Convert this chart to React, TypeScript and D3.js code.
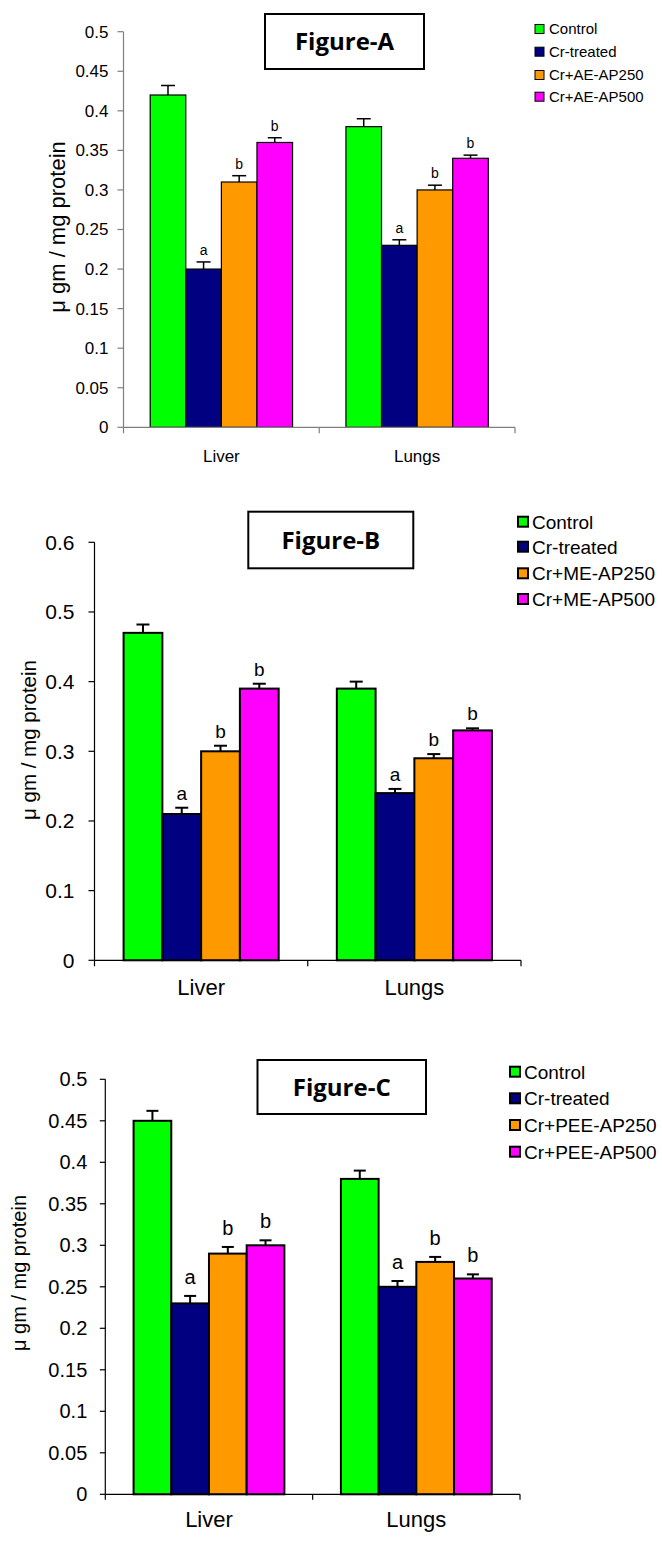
import React from "react";
import * as d3 from "d3";

// ---------- DATA ----------
const categories = ["Liver", "Lungs"];
const seriesColors = ["#00FF00", "#000080", "#FF9900", "#FF00FF"];
const sigLetters = ["", "a", "b", "b"];

const seriesA = ["Control", "Cr-treated", "Cr+AE-AP250", "Cr+AE-AP500"];
const valuesA = [
  [0.42, 0.38],
  [0.2, 0.23],
  [0.31, 0.3],
  [0.36, 0.34],
];
const errorsA = [
  [0.012, 0.01],
  [0.009, 0.007],
  [0.008, 0.006],
  [0.006, 0.004],
];
const ticksA = [0, 0.05, 0.1, 0.15, 0.2, 0.25, 0.3, 0.35, 0.4, 0.45, 0.5];

const seriesB = ["Control", "Cr-treated", "Cr+ME-AP250", "Cr+ME-AP500"];
const valuesB = [
  [0.47, 0.39],
  [0.21, 0.24],
  [0.3, 0.29],
  [0.39, 0.33],
];
const errorsB = [
  [0.012, 0.01],
  [0.009, 0.006],
  [0.008, 0.006],
  [0.007, 0.003],
];
const ticksB = [0, 0.1, 0.2, 0.3, 0.4, 0.5, 0.6];

const seriesC = ["Control", "Cr-treated", "Cr+PEE-AP250", "Cr+PEE-AP500"];
const valuesC = [
  [0.45, 0.38],
  [0.23, 0.25],
  [0.29, 0.28],
  [0.3, 0.26],
];
const errorsC = [
  [0.012, 0.01],
  [0.009, 0.007],
  [0.008, 0.006],
  [0.006, 0.005],
];
const ticksC = [0, 0.05, 0.1, 0.15, 0.2, 0.25, 0.3, 0.35, 0.4, 0.45, 0.5];

const yLabel = "μ gm / mg protein";

// ---------- LAYOUT ----------
const SANS = "'Liberation Sans', Arial, sans-serif";
const TITLE_FONT = "'Open Sans', sans-serif";

interface Layout {
  left: number;
  right: number;
  top: number;
  bottom: number;
  yMax: number;
  axisColor: string;
  axisWidth: number;
  tickLen: number;
  tickFont: number;
  tickLabelGap: number;
  catFont: number;
  catY: number;
  yLabelX: number;
  yLabelY: number;
  yLabelFont: number;
  letterFont: number;
  letterGap: number;
  barStroke: number;
  errStroke: number;
  capW: number;
  box: [number, number, number, number];
  titleFont: number;
  legendX: number;
  legendSq: number;
  legendTextX: number;
  legendYs: number[];
  legendFont: number;
  legendStroke: number;
}

const layoutA: Layout = {
  left: 123.5,
  right: 515,
  top: 31.7,
  bottom: 427.3,
  yMax: 0.5,
  axisColor: "#7f7f7f",
  axisWidth: 1.2,
  tickLen: 6,
  tickFont: 17,
  tickLabelGap: 15,
  catFont: 17,
  catY: 461.5,
  yLabelX: 57,
  yLabelY: 227,
  yLabelFont: 22,
  letterFont: 14,
  letterGap: 7,
  barStroke: 1.2,
  errStroke: 1.5,
  capW: 14,
  box: [265, 14, 424, 69],
  titleFont: 24,
  legendX: 535,
  legendSq: 9,
  legendTextX: 549,
  legendYs: [29, 51.7, 75, 96.7],
  legendFont: 15,
  legendStroke: 1,
};

const layoutB: Layout = {
  left: 94.5,
  right: 521,
  top: 542.3,
  bottom: 960.3,
  yMax: 0.6,
  axisColor: "#000",
  axisWidth: 1.2,
  tickLen: 6,
  tickFont: 21,
  tickLabelGap: 20,
  catFont: 22,
  catY: 995,
  yLabelX: 28.5,
  yLabelY: 740,
  yLabelFont: 20.5,
  letterFont: 19,
  letterGap: 8,
  barStroke: 2,
  errStroke: 2,
  capW: 13,
  box: [248.3, 511.7, 413.3, 568.3],
  titleFont: 24,
  legendX: 518,
  legendSq: 10,
  legendTextX: 532,
  legendYs: [521.7, 546.7, 573.3, 599],
  legendFont: 19,
  legendStroke: 2,
};

const layoutC: Layout = {
  left: 105.3,
  right: 520,
  top: 1079.3,
  bottom: 1494.3,
  yMax: 0.5,
  axisColor: "#000",
  axisWidth: 1.2,
  tickLen: 5.5,
  tickFont: 20,
  tickLabelGap: 18,
  catFont: 22,
  catY: 1526.5,
  yLabelX: 19,
  yLabelY: 1273,
  yLabelFont: 20,
  letterFont: 20,
  letterGap: 12,
  barStroke: 2,
  errStroke: 2,
  capW: 12,
  box: [257.5, 1060, 426, 1114],
  titleFont: 24,
  legendX: 510,
  legendSq: 10,
  legendTextX: 524,
  legendYs: [1071.7, 1098.3, 1125, 1151.7],
  legendFont: 19,
  legendStroke: 2,
};

function fmt(v: number): string {
  return String(+v.toFixed(2));
}

function Panel(props: {
  series: string[];
  values: number[][];
  errors: number[][];
  ticks: number[];
  title: string;
  L: Layout;
}) {
  const { series, values, errors, ticks, title, L } = props;
  const y = d3.scaleLinear().domain([0, L.yMax]).range([L.bottom, L.top]);
  const x0 = d3
    .scaleBand<string>()
    .domain(categories)
    .range([L.left, L.right])
    .padding(0);
  const x1 = d3
    .scaleBand<string>()
    .domain(series)
    .range([0, x0.bandwidth()])
    .paddingInner(0)
    .paddingOuter(0.75);
  const mid = L.left + x0.bandwidth();
  const [bx0, by0, bx1, by1] = L.box;

  return (
    <g>
      {/* bars */}
      {series.map((s, si) =>
        categories.map((c, ci) => {
          const v = values[si][ci];
          const bx = (x0(c) as number) + (x1(s) as number);
          return (
            <rect
              key={`bar-${si}-${ci}`}
              x={bx}
              y={y(v)}
              width={x1.bandwidth()}
              height={y(0) - y(v)}
              fill={seriesColors[si]}
              stroke="#000"
              strokeWidth={L.barStroke}
            />
          );
        })
      )}
      {/* error bars + letters */}
      {series.map((s, si) =>
        categories.map((c, ci) => {
          const v = values[si][ci];
          const e = errors[si][ci];
          const cx = (x0(c) as number) + (x1(s) as number) + x1.bandwidth() / 2;
          const yt = y(v + e);
          return (
            <g key={`err-${si}-${ci}`}>
              <line x1={cx} x2={cx} y1={y(v)} y2={yt} stroke="#000" strokeWidth={L.errStroke} />
              <line
                x1={cx - L.capW / 2}
                x2={cx + L.capW / 2}
                y1={yt}
                y2={yt}
                stroke="#000"
                strokeWidth={L.errStroke}
              />
              {sigLetters[si] && (
                <text
                  x={cx}
                  y={yt - L.letterGap}
                  textAnchor="middle"
                  fontFamily={SANS}
                  fontSize={L.letterFont}
                  fill="#000"
                >
                  {sigLetters[si]}
                </text>
              )}
            </g>
          );
        })
      )}
      {/* y axis */}
      <line x1={L.left} x2={L.left} y1={y(L.yMax)} y2={y(0)} stroke={L.axisColor} strokeWidth={L.axisWidth} />
      {ticks.map((t) => (
        <g key={`tick-${t}`}>
          <line
            x1={L.left - L.tickLen}
            x2={L.left}
            y1={y(t)}
            y2={y(t)}
            stroke={L.axisColor}
            strokeWidth={L.axisWidth}
          />
          <text
            x={L.left - L.tickLabelGap}
            y={y(t)}
            dy="0.35em"
            textAnchor="end"
            fontFamily={SANS}
            fontSize={L.tickFont}
            fill="#000"
          >
            {fmt(t)}
          </text>
        </g>
      ))}
      {/* x axis */}
      <line x1={L.left} x2={L.right} y1={y(0)} y2={y(0)} stroke={L.axisColor} strokeWidth={L.axisWidth} />
      {[L.left, mid, L.right].map((tx, i) => (
        <line
          key={`xt-${i}`}
          x1={tx}
          x2={tx}
          y1={y(0)}
          y2={y(0) + L.tickLen}
          stroke={L.axisColor}
          strokeWidth={L.axisWidth}
        />
      ))}
      {categories.map((c) => (
        <text
          key={`cat-${c}`}
          x={(x0(c) as number) + x0.bandwidth() / 2}
          y={L.catY}
          textAnchor="middle"
          fontFamily={SANS}
          fontSize={L.catFont}
          fill="#000"
        >
          {c}
        </text>
      ))}
      {/* y label */}
      <text
        transform={`translate(${L.yLabelX},${L.yLabelY}) rotate(-90)`}
        textAnchor="middle"
        dy="0.35em"
        fontFamily={SANS}
        fontSize={L.yLabelFont}
        fill="#000"
      >
        {yLabel}
      </text>
      {/* title box */}
      <rect
        x={bx0}
        y={by0}
        width={bx1 - bx0}
        height={by1 - by0}
        fill="#fff"
        stroke="#000"
        strokeWidth={2}
      />
      <text
        x={(bx0 + bx1) / 2}
        y={(by0 + by1) / 2}
        dy="0.36em"
        textAnchor="middle"
        fontFamily={TITLE_FONT}
        fontWeight={700}
        fontSize={L.titleFont}
        fill="#000"
      >
        {title}
      </text>
      {/* legend */}
      {series.map((s, si) => (
        <g key={`leg-${si}`}>
          <rect
            x={L.legendX}
            y={L.legendYs[si] - L.legendSq / 2}
            width={L.legendSq}
            height={L.legendSq}
            fill={seriesColors[si]}
            stroke="#000"
            strokeWidth={L.legendStroke}
          />
          <text
            x={L.legendTextX}
            y={L.legendYs[si]}
            dy="0.36em"
            fontFamily={SANS}
            fontSize={L.legendFont}
            fill="#000"
          >
            {s}
          </text>
        </g>
      ))}
    </g>
  );
}

export default function App() {
  return (
    <svg
      width={662}
      height={1551}
      viewBox="0 0 662 1551"
      style={{ position: "absolute", left: 0, top: 0, background: "#fff", display: "block" }}
    >
      <rect x={0} y={0} width={662} height={1551} fill="#fff" />
      <Panel series={seriesA} values={valuesA} errors={errorsA} ticks={ticksA} title="Figure-A" L={layoutA} />
      <Panel series={seriesB} values={valuesB} errors={errorsB} ticks={ticksB} title="Figure-B" L={layoutB} />
      <Panel series={seriesC} values={valuesC} errors={errorsC} ticks={ticksC} title="Figure-C" L={layoutC} />
    </svg>
  );
}
